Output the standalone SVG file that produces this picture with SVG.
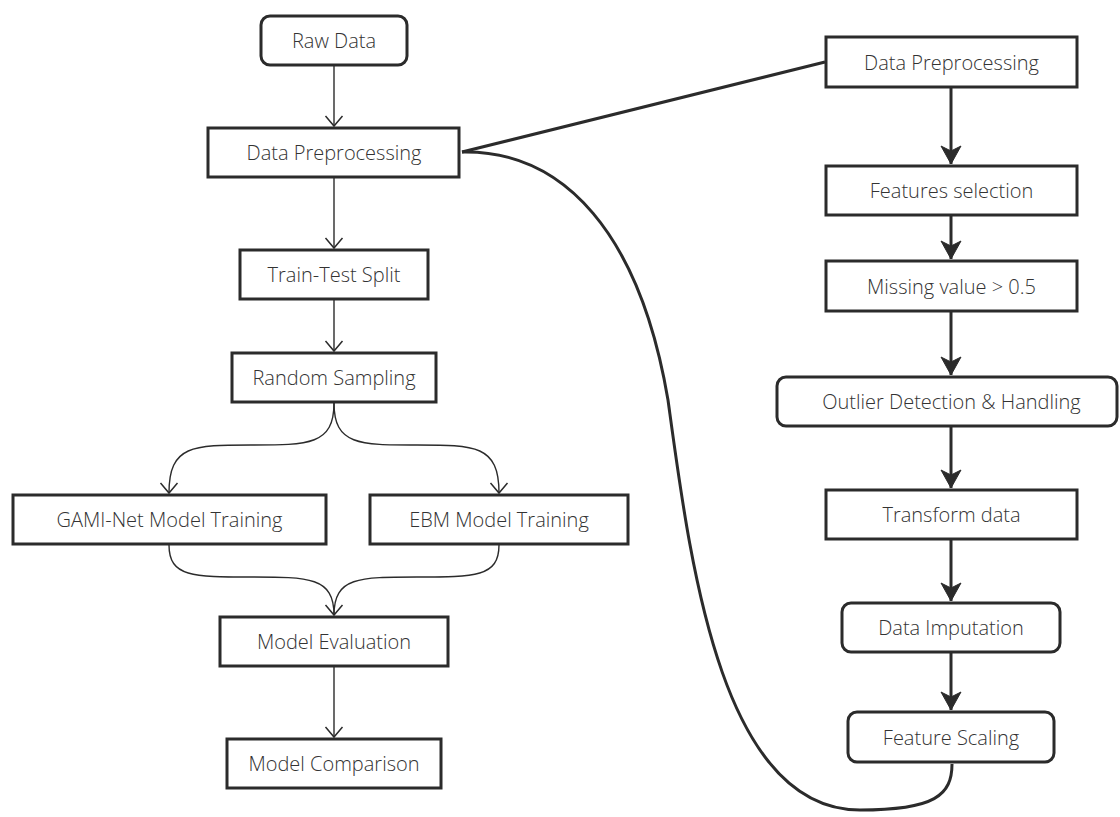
<svg xmlns="http://www.w3.org/2000/svg" width="1120" height="817" viewBox="0 0 1120 817">
  <style>
    .box { fill: #ffffff; stroke: #2b2b2b; stroke-width: 3; }
    .lbl { font-family: "Open Sans", "Liberation Sans", sans-serif; font-size: 20px; font-weight: 300; fill: #333333; text-anchor: middle; }
    .thin { fill: none; stroke: #2b2b2b; stroke-width: 1.4; }
    .bold { fill: none; stroke: #2b2b2b; stroke-width: 3; }
  </style>
  <defs>
    <marker id="open" markerUnits="userSpaceOnUse" viewBox="-12 -10 14 20" refX="0" refY="0" markerWidth="14" markerHeight="20" orient="auto" overflow="visible">
      <path d="M-10,-8.5 L0,0 L-10,8.5" fill="none" stroke="#2b2b2b" stroke-width="1.5"/>
    </marker>
    <marker id="solid" markerUnits="userSpaceOnUse" viewBox="-20 -11 22 22" refX="0" refY="0" markerWidth="22" markerHeight="22" orient="auto" overflow="visible">
      <path d="M0,0 L-18,-10 L-13,0 L-18,10 Z" fill="#2b2b2b" stroke="#2b2b2b" stroke-width="1" stroke-linejoin="round"/>
    </marker>
  </defs>

  <!-- connectors -->
  <g id="connectors">
    <!-- main pipeline -->
    <line class="thin" x1="334" y1="66" x2="334" y2="126" marker-end="url(#open)"/>
    <line class="thin" x1="334" y1="178" x2="334" y2="248" marker-end="url(#open)"/>
    <line class="thin" x1="334" y1="300" x2="334" y2="351" marker-end="url(#open)"/>
    <path class="thin" d="M334,403 C334,445 309,445 251,445 C193,445 169,445 169,493" marker-end="url(#open)"/>
    <path class="thin" d="M334,403 C334,445 359,445 417,445 C475,445 499,445 499,493" marker-end="url(#open)"/>
    <path class="thin" d="M169,545 C169,577 193,577 251,577 C309,577 334,577 334,615" marker-end="url(#open)"/>
    <path class="thin" d="M499,545 C499,577 475,577 417,577 C359,577 334,577 334,615"/>
    <line class="thin" x1="334" y1="667" x2="334" y2="737" marker-end="url(#open)"/>

    <!-- preprocessing detail -->
    <line class="bold" x1="462" y1="152" x2="825" y2="62"/>
    <path class="bold" d="M462,152 C565,150 640,235 668,400 C690,560 720,810 860,810 C935,810 952,795 952,764"/>
    <line class="bold" x1="951" y1="88" x2="951" y2="164" marker-end="url(#solid)"/>
    <line class="bold" x1="951" y1="216" x2="951" y2="259" marker-end="url(#solid)"/>
    <line class="bold" x1="951" y1="312" x2="951" y2="375" marker-end="url(#solid)"/>
    <line class="bold" x1="951" y1="427" x2="951" y2="488" marker-end="url(#solid)"/>
    <line class="bold" x1="951" y1="540" x2="951" y2="601" marker-end="url(#solid)"/>
    <line class="bold" x1="951" y1="653" x2="951" y2="710" marker-end="url(#solid)"/>
  </g>

  <!-- main pipeline nodes -->
  <g id="raw-data">
    <rect class="box" x="261" y="16" width="146" height="49" rx="9"/>
    <text class="lbl" x="334" y="48">Raw Data</text>
  </g>
  <g id="data-preprocessing">
    <rect class="box" x="208" y="128" width="251" height="49"/>
    <text class="lbl" x="334" y="160">Data Preprocessing</text>
  </g>
  <g id="train-test-split">
    <rect class="box" x="240" y="250" width="188" height="49"/>
    <text class="lbl" x="334" y="282">Train-Test Split</text>
  </g>
  <g id="random-sampling">
    <rect class="box" x="232" y="353" width="204" height="49"/>
    <text class="lbl" x="334" y="385">Random Sampling</text>
  </g>
  <g id="gami-net-training">
    <rect class="box" x="13" y="495" width="313" height="49"/>
    <text class="lbl" x="169.5" y="527">GAMI-Net Model Training</text>
  </g>
  <g id="ebm-training">
    <rect class="box" x="370" y="495" width="258" height="49"/>
    <text class="lbl" x="499" y="527">EBM Model Training</text>
  </g>
  <g id="model-evaluation">
    <rect class="box" x="220" y="617" width="228" height="49"/>
    <text class="lbl" x="334" y="649">Model Evaluation</text>
  </g>
  <g id="model-comparison">
    <rect class="box" x="227" y="739" width="214" height="49"/>
    <text class="lbl" x="334" y="771">Model Comparison</text>
  </g>

  <!-- preprocessing detail nodes -->
  <g id="pre-data-preprocessing">
    <rect class="box" x="826" y="37" width="251" height="50"/>
    <text class="lbl" x="951.5" y="69.5">Data Preprocessing</text>
  </g>
  <g id="features-selection">
    <rect class="box" x="826" y="166" width="251" height="49"/>
    <text class="lbl" x="951.5" y="198">Features selection</text>
  </g>
  <g id="missing-value">
    <rect class="box" x="826" y="261" width="251" height="50"/>
    <text class="lbl" x="951.5" y="293.5">Missing value &gt; 0.5</text>
  </g>
  <g id="outlier-handling">
    <rect class="box" x="777" y="377" width="340" height="49" rx="9"/>
    <text class="lbl" x="951.5" y="409">Outlier Detection &amp; Handling</text>
  </g>
  <g id="transform-data">
    <rect class="box" x="826" y="490" width="251" height="49"/>
    <text class="lbl" x="951.5" y="522">Transform data</text>
  </g>
  <g id="data-imputation">
    <rect class="box" x="842" y="603" width="218" height="49" rx="9"/>
    <text class="lbl" x="951" y="635">Data Imputation</text>
  </g>
  <g id="feature-scaling">
    <rect class="box" x="848" y="712" width="206" height="50" rx="9"/>
    <text class="lbl" x="951" y="744.5">Feature Scaling</text>
  </g>
</svg>
